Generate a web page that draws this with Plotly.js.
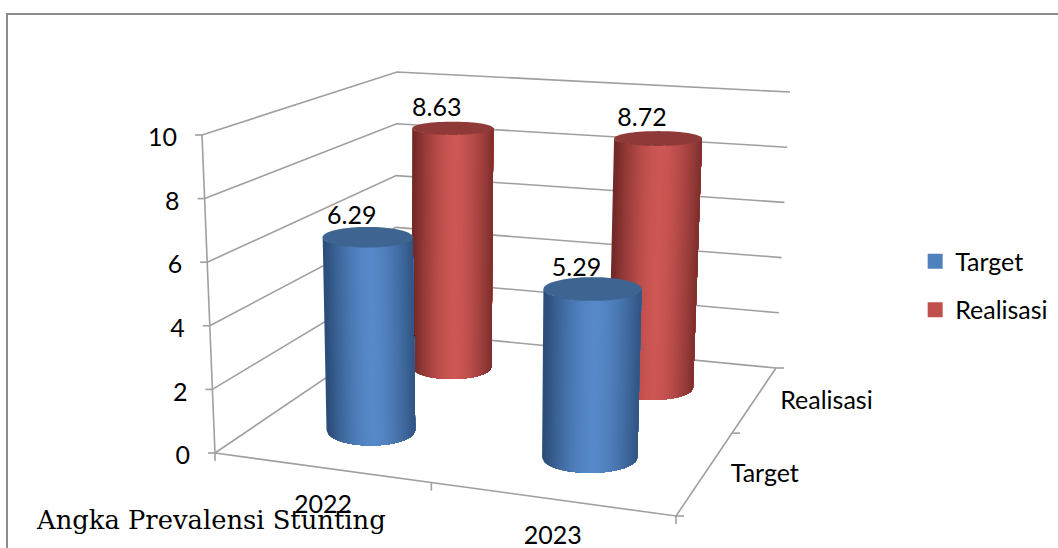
<!DOCTYPE html>
<html><head><meta charset="utf-8">
<script src="https://cdn.plot.ly/plotly-3.0.1.min.js"></script>
<style>html,body{margin:0;padding:0;background:#fff;overflow:hidden}#g{width:1058px;height:548px}</style>
</head><body><div id="g"></div>
<script>
const categories = ['2022', '2023'];
const seriesNames = ['Target', 'Realisasi'];
const target = [6.29, 5.29];
const realisasi = [8.63, 8.72];
const tickValues = [0, 2, 4, 6, 8, 10];
const zMax = 10;
const caption = 'Angka Prevalensi Stunting';

// 3D box seen in perspective: floor and ceiling corners (front-left, front-right, back-right, back-left)
const floorC = [[215,453],[676,516],[776,368],[395,331]];
const ceilC  = [[202,135],[688,172],[790,92],[397,72]];
function homography(p){
  const [x0,y0]=p[0],[x1,y1]=p[1],[x2,y2]=p[2],[x3,y3]=p[3];
  const dx1=x1-x2,dx2=x3-x2,sx=x0-x1+x2-x3,dy1=y1-y2,dy2=y3-y2,sy=y0-y1+y2-y3;
  const det=dx1*dy2-dx2*dy1,g=(sx*dy2-dx2*sy)/det,h=(dx1*sy-sx*dy1)/det;
  const a=x1-x0+g*x1,b=x3-x0+h*x3,d=y1-y0+g*y1,e=y3-y0+h*y3;
  return (u,v)=>{const q=g*u+h*v+1;return [(a*u+b*v+x0)/q,(d*u+e*v+y0)/q];};
}
const hF=homography(floorC),hC=homography(ceilC);
function proj(u,v,z){const a=hF(u,v),b=hC(u,v),t=z/zMax;return [a[0]+(b[0]-a[0])*t,a[1]+(b[1]-a[1])*t];}
const uOf=i=>(i+0.5)/categories.length+0.007, vOf=s=>(s+0.5)/seriesNames.length;
const GRID='#9f9f9f';
const traces=[];
function line(pts,color,w){traces.push({type:'scatter',mode:'lines',x:pts.map(p=>p[0]),y:pts.map(p=>p[1]),line:{color:color||GRID,width:w||1.6},hoverinfo:'skip',showlegend:false});}
// walls
tickValues.forEach(z=>{line([proj(0,0,z),proj(0,1,z),proj(1,1,z)]);
  const p=proj(0,0,z);line([[p[0]-7,p[1]],p]);});
line([proj(0,0,0),proj(0,0,zMax)]);
line([proj(0,0,0),proj(1,0,0),proj(1,1,0)]);
[0,.5,1].forEach(u=>{const p=proj(u,0,0);line([p,[p[0],p[1]+8]]);});
[0,.5,1].forEach(v=>{const p=proj(1,v,0);line([p,[p[0]+8,p[1]]]);});

const PAL={0:{lo:[44,78,122],hi:[86,137,201],cap:[62,100,146]},1:{lo:[116,42,40],hi:[206,87,84],cap:[143,58,56]}};
const mix=(a,b,t)=>'rgb('+a.map((c,i)=>Math.round(c+(b[i]-c)*t)).join(',')+')';
// screen ellipse of the round section of a cylinder at height z
function section(i,s,z){
  const uc=uOf(i),vc=vOf(s),c=proj(uc,vc,z),p=proj(uc+0.01,vc,z),q=proj(uc-0.01,vc,z);
  const k=0.1065-0.0045*i-0.0015*s;
  const a=k*Math.hypot(p[0]-q[0],p[1]-q[1])/0.02;
  const ratio=0.165+0.0006*(c[1]-130)-i*0.035*(c[1]-130)/300;
  return {cx:c[0],cy:c[1],a:a,b:a*ratio};
}
function cylinder(i,s,val){
  const pal=PAL[s],B=section(i,s,0),T=section(i,s,val),M=50;
  const edge=(E,f)=>{const w=2*f-1;return [E.cx+E.a*w,E.cy+E.b*Math.sqrt(Math.max(0,1-w*w))];};
  // painter's order: each shade covers everything from its left edge to the right end of the body
  for(let k=0;k<M;k++){
    const f0=k/M,lower=[],upper=[];
    for(let j=k;j<=M;j++){lower.push(edge(B,j/M));upper.unshift(edge(T,j/M));}
    const poly=lower.concat(upper);poly.push(lower[0]);
    const f=(k+0.5)/M,sh=1-Math.pow(Math.abs(2*f-1.06),1.6);
    const col=mix(pal.lo,pal.hi,Math.max(0,Math.min(1,sh)));
    traces.push({type:'scatter',mode:'none',x:poly.map(p=>p[0]),y:poly.map(p=>p[1]),fill:'toself',fillcolor:col,hoverinfo:'skip',showlegend:false});
  }
  const cx=[],cy=[];for(let k=0;k<=72;k++){const t=k/72*2*Math.PI;cx.push(T.cx+T.a*Math.cos(t));cy.push(T.cy+T.b*Math.sin(t));}
  const col=mix(pal.cap,pal.cap,0);
  traces.push({type:'scatter',mode:'none',x:cx,y:cy,fill:'toself',fillcolor:col,hoverinfo:'skip',showlegend:false});
}
const values=[target,realisasi];
[[1,0],[1,1],[0,0],[0,1]].forEach(([s,i])=>cylinder(i,s,values[s][i]));

const FONT='Lato, "Open Sans", sans-serif',FS=25;
function label(pts,text,pos){traces.push({type:'scatter',mode:'text',x:pts.map(p=>p[0]),y:pts.map(p=>p[1]),text:text,textposition:pos,textfont:{family:FONT,size:FS,color:'#000'},hoverinfo:'skip',showlegend:false});}
// value labels
const lp=[],lt=[];values.forEach((arr,s)=>arr.forEach((val,i)=>{const p=proj(uOf(i),vOf(s),val);lp.push([p[0]-16,p[1]-19]);lt.push(val.toFixed(2));}));
label(lp,lt,'middle center');
label(tickValues.map(z=>{const p=proj(0,0,z);return [p[0]-25,p[1]+5];}),tickValues.map(String),'middle left');
label(categories.map((c,i)=>{const p=proj((i+0.5)/categories.length,0,0);return [p[0]+3,p[1]+39];}),categories,'middle center');
label(seriesNames.map((c,s)=>{const p=proj(1,vOf(s),0);return [p[0]+25,p[1]+4];}),seriesNames,'middle right');
// legend
seriesNames.forEach((n,s)=>traces.push({type:'scatter',mode:'markers',x:[-50],y:[-50],name:n,legendgroup:n,marker:{symbol:'square',size:15,color:s?'#C0504D':'#4F81BD'},hoverinfo:'skip'}));

Plotly.newPlot('g',traces,{
  width:1058,height:548,margin:{l:0,r:0,t:0,b:0},paper_bgcolor:'#fff',plot_bgcolor:'#fff',
  xaxis:{range:[0,1058],visible:false,fixedrange:true},
  yaxis:{range:[548,0],visible:false,fixedrange:true},
  legend:{x:0.865,y:0.565,xanchor:'left',yanchor:'top',font:{family:FONT,size:FS,color:'#000'},traceorder:'grouped',tracegroupgap:13,bgcolor:'rgba(0,0,0,0)'},
  shapes:[{type:'line',xref:'x',yref:'y',x0:6,y0:14,x1:1060,y1:14,line:{color:'#8c8c8c',width:2}},
    {type:'line',xref:'x',yref:'y',x0:7,y0:13,x1:7,y1:550,line:{color:'#8c8c8c',width:2}}],
  annotations:[{xref:'x',yref:'y',x:34,y:520,xanchor:'left',yanchor:'middle',text:caption,showarrow:false,font:{family:'"DejaVu Serif", serif',size:25.8,color:'#000'}}],
  showlegend:true
},{staticPlot:true,displayModeBar:false});
</script></body></html>
